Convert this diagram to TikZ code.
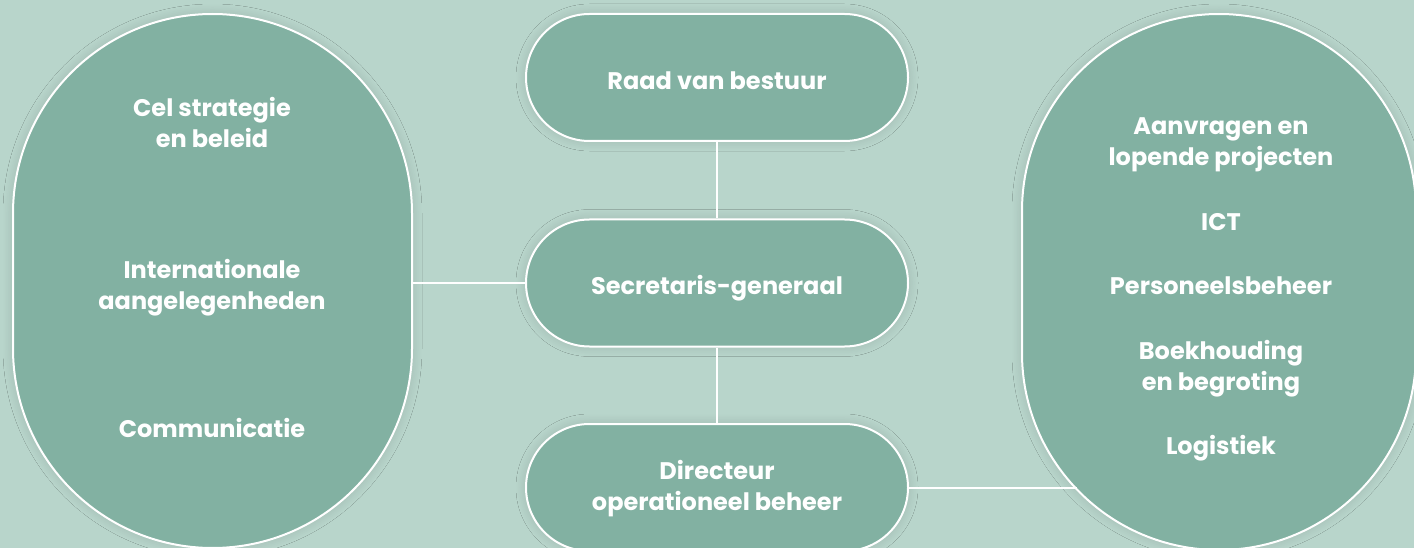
\documentclass[tikz,border=0pt]{standalone}
\usepackage{fontspec}
\setmainfont{Poppins}[Ligatures=NoCommon]
\usetikzlibrary{shapes.misc,shadows.blur}
\definecolor{bgc}{HTML}{B8D5CB}
\definecolor{boxc}{HTML}{82B1A2}
\begin{document}
\begin{tikzpicture}[x=1pt,y=-1pt,
  softshadow/.style={blur shadow={shadow xshift=0pt,shadow yshift=0pt,shadow blur radius=10pt,shadow blur steps=12,shadow opacity=14}},
  pill/.style={rounded rectangle, draw=white, line width=2pt, fill=boxc, minimum width=382pt, minimum height=127pt, inner sep=0pt, softshadow},
  big/.style={rectangle, draw=white, line width=2pt, fill=boxc, inner sep=0pt, softshadow},
  lbl/.style={anchor=base, text=white, font=\fontsize{24}{30}\selectfont\bfseries, inner sep=0pt},
  link/.style={draw=white, line width=2pt}]
\fill[bgc] (0,0) rectangle (1414,548);
\useasboundingbox (0,0) rectangle (1414,548);
% large groups
\node[big, rounded corners=199.5pt, minimum width=399pt, minimum height=534pt] (left) at (212.5,281) {};
\node[big, rounded corners=197pt, minimum width=394pt, minimum height=536pt] (right) at (1219,282) {};
% central pills
\node[pill] (raad) at (717,77.5) {};
\node[pill] (sec) at (717,283) {};
\node[pill] (dir) at (717,487.5) {};
\coordinate (rj) at (1076.5,489);
% connectors
\draw[link] (raad.south) -- (sec.north);
\draw[link] (sec.south) -- (dir.north);
\draw[link] (sec.west) -- (sec.west -| left.east);
\draw[link] (dir.east) -- (dir.east -| rj);
% labels
\node[lbl] (t1) at (717,90) {Raad van bestuur};
\node[lbl] (t2) at (717,294.5) {Secretaris-generaal};
\node[lbl] (t3a) at (717,479) {Directeur};
\node[lbl] (t3b) at (717,510) {operationeel beheer};
\node[lbl] (l1a) at (212,116.5) {Cel strategie};
\node[lbl] (l1b) at (212,148) {en beleid};
\node[lbl] (l2a) at (212,278) {Internationale};
\node[lbl] (l2b) at (212,309.5) {aangelegenheden};
\node[lbl] (l3) at (212,437) {Communicatie};
\node[lbl] (r1a) at (1221,134.5) {Aanvragen en};
\node[lbl] (r1b) at (1221,166) {lopende projecten};
\node[lbl] (r2) at (1221,230.5) {ICT};
\node[lbl] (r3) at (1221,294.5) {Personeelsbeheer};
\node[lbl] (r4a) at (1221,359) {Boekhouding};
\node[lbl] (r4b) at (1221,390.5) {en begroting};
\node[lbl] (r5) at (1221,454) {Logistiek};
\end{tikzpicture}
\end{document}
